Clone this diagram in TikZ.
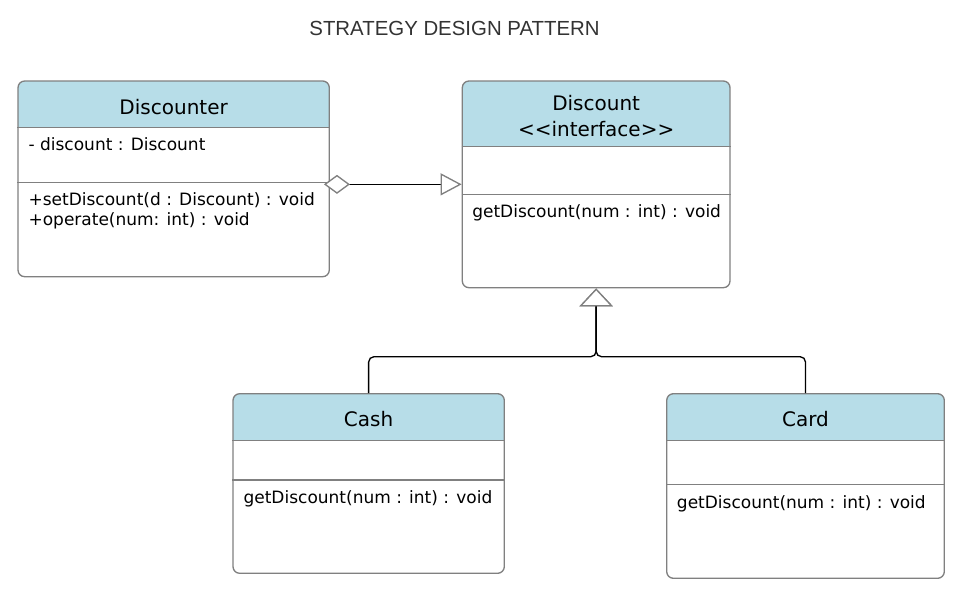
\documentclass[tikz,border=0pt]{standalone}
\usepackage{fontspec}
\usepackage{tikz}
\usetikzlibrary{arrows.meta}
\usetikzlibrary{calc}
\newfontfamily\umlfont{DejaVu Sans}
\newfontfamily\titlefont{Liberation Sans}
\definecolor{headBlue}{RGB}{183,221,232}
\definecolor{boxGray}{RGB}{128,128,128}
\definecolor{titleGray}{RGB}{51,51,51}
\newcommand\pxu{0.75pt}

\begin{document}
\begin{tikzpicture}[x=0.75pt,y=-0.75pt,
  classbox/.style={draw=boxGray, line width=1pt, rounded corners=5pt, fill=white,
    path picture={\fill[headBlue, sharp corners] (path picture bounding box.north west)
      rectangle ($(path picture bounding box.north east)+(0,#1)$);}},
  divider/.style={draw=boxGray, line width=1pt},
  classname/.style={inner sep=0pt, anchor=base, font=\umlfont\fontsize{15}{18}\selectfont},
  member/.style={inner sep=0pt, anchor=base west, font=\umlfont\fontsize{12.75}{15}\selectfont},
  aggregation/.style={line width=1pt,
    {Diamond[color=boxGray, fill=white, length=19.5pt, width=14.25pt, line width=1pt]}-{Triangle[color=boxGray, fill=white, length=15.75pt, width=16.5pt, line width=1pt]},
    shorten <=-4.5pt},
  inherit/.style={line width=1pt, rounded corners=4pt,
    -{Triangle[color=boxGray, fill=white, length=13.5pt, width=25pt, line width=1pt]}},
]
\useasboundingbox (0,0) rectangle (963,598);

\node[inner sep=0pt, anchor=base, text=titleGray, font=\titlefont\fontsize{15.3}{18}\selectfont] (title) at (454.5,36) {STRATEGY DESIGN PATTERN};

% Discounter
\node[classbox=46.7, minimum width=311.3*\pxu, minimum height=195.7*\pxu] (discounter) at (173.65,178.85) {};
\draw[divider] (discounter.west |- 0,127.7) -- (discounter.east |- 0,127.7);
\draw[divider] (discounter.west |- 0,182.7) -- (discounter.east |- 0,182.7);
\node[classname] (discounter-name) at (173.65,115) {Discounter};
\node[member] (discounter-attr) at (28.3,151) {- discount : Discount};
\node[member] (discounter-op1) at (28.3,205.7) {+setDiscount(d : Discount) : void};
\node[member] (discounter-op2) at (28.3,225.7) {+operate(num: int) : void};

% Discount
\node[classbox=65.7, minimum width=267.7*\pxu, minimum height=206.7*\pxu] (discount) at (596.15,184.35) {};
\draw[divider] (discount.west |- 0,146.7) -- (discount.east |- 0,146.7);
\draw[divider] (discount.west |- 0,194.3) -- (discount.east |- 0,194.3);
\node[classname] (discount-name) at (596.15,111) {Discount};
\node[classname] (discount-stereo) at (596.15,136.7) {<\kern0pt<interface>\kern0pt>};
\node[member] (discount-op) at (472,217.7) {getDiscount(num : int) : void};

% Cash
\node[classbox=47, minimum width=271.3*\pxu, minimum height=179.6*\pxu] (cash) at (368.65,483.5) {};
\draw[divider] (cash.west |- 0,440.7) -- (cash.east |- 0,440.7);
\draw[divider] (cash.west |- 0,480) -- (cash.east |- 0,480);
\node[classname] (cash-name) at (368.65,426.7) {Cash};
\node[member] (cash-op) at (243.3,503.3) {getDiscount(num : int) : void};

% Card
\node[classbox=47, minimum width=277.6*\pxu, minimum height=184.6*\pxu] (card) at (805.5,486) {};
\draw[divider] (card.west |- 0,440.7) -- (card.east |- 0,440.7);
\draw[divider] (card.west |- 0,484.7) -- (card.east |- 0,484.7);
\node[classname] (card-name) at (805.5,426.7) {Card};
\node[member] (card-op) at (676.7,508.3) {getDiscount(num : int) : void};

% connectors
\draw[aggregation] (discounter.east |- discount.west) -- (discount.west);
\coordinate (merge) at (596.15,356.7);
\draw[inherit] (cash.north) |- (merge) -- (discount.south);
\draw[inherit] (card.north) |- (merge) -- (discount.south);
\end{tikzpicture}
\end{document}
